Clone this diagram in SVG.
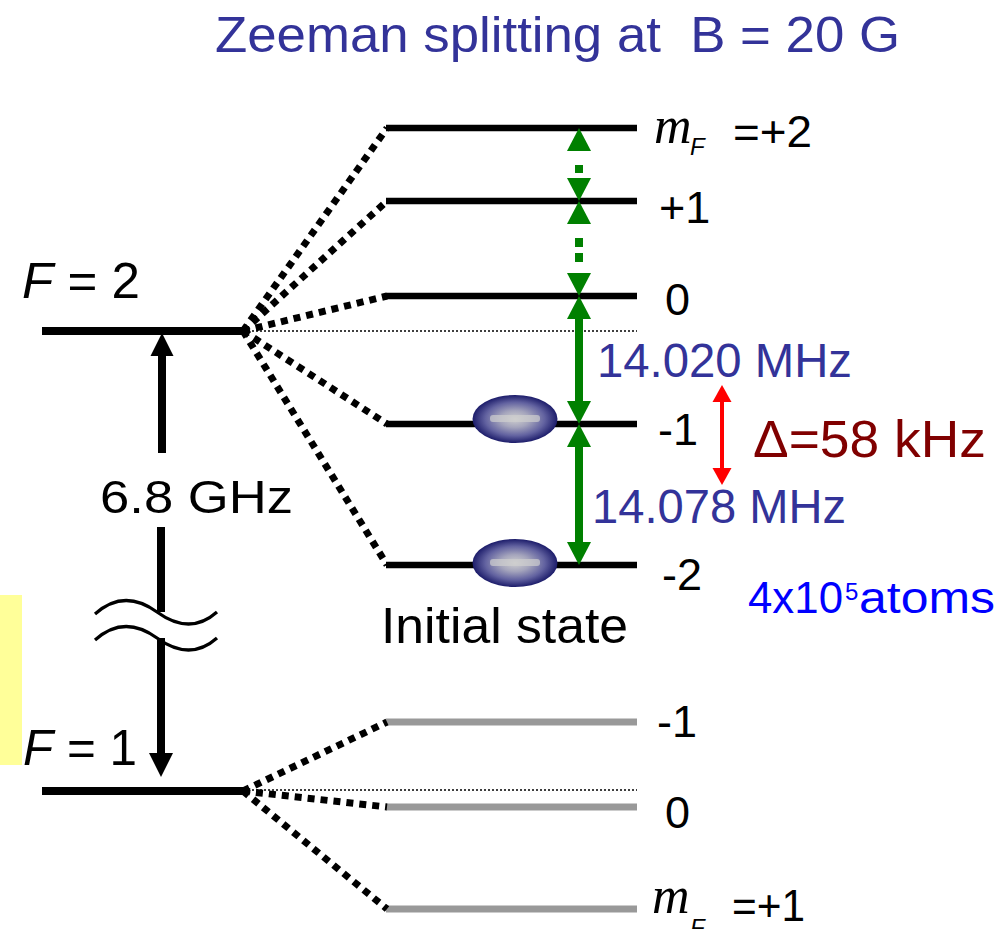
<svg xmlns="http://www.w3.org/2000/svg" xmlns:xlink="http://www.w3.org/1999/xlink" width="1003" height="929" viewBox="0 0 1003 929">
<style>
  text { font-family: "Liberation Sans", Arial, sans-serif; }
  .lvl { stroke: #000; stroke-width: 6.5; fill: none; }
  .glvl { stroke: #999; stroke-width: 7; fill: none; }
  .main { stroke: #000; stroke-width: 8; fill: none; }
  .diag { stroke: #000; stroke-width: 7; stroke-dasharray: 7 6; fill: none; }
  .thin { stroke: #000; stroke-width: 1.6; stroke-dasharray: 2 2; fill: none; }
  .grn { stroke: #008000; stroke-width: 8; fill: none; }
  .grnd { stroke: #008000; stroke-width: 8; stroke-dasharray: 9 6; fill: none; }
  .gh { fill: #008000; }
  .rh { fill: #ff0000; }
  .wave { stroke: #000; stroke-width: 3.2; fill: none; }
  .lbl { font-size: 45px; fill: #000; }
  .mi { font-family: "Liberation Serif", "Times New Roman", serif; font-style: italic; font-size: 52px; }
  .sub { font-style: italic; font-size: 24px; }
  .freq { font-size: 48px; fill: #333399; }
</style>
<defs>
  <path id="ghUp" d="M0,0 L12,23 L-12,23 Z"/>
  <path id="ghDn" d="M0,0 L12,-23 L-12,-23 Z"/>
  <path id="rhUp" d="M0,0 L9.5,17 L-9.5,17 Z"/>
  <path id="rhDn" d="M0,0 L9.5,-17 L-9.5,-17 Z"/>
  <path id="bhUp" d="M0,0 L11.5,23 L-11.5,23 Z"/>
  <path id="bhDn" d="M0,0 L12,-24 L-12,-24 Z"/>
  <radialGradient id="atomGrad" cx="50%" cy="50%" r="50%">
    <stop offset="0" stop-color="#cfcfcf"/>
    <stop offset="0.35" stop-color="#a4a4bc"/>
    <stop offset="0.7" stop-color="#6262a0"/>
    <stop offset="1" stop-color="#1c1c6a"/>
  </radialGradient>
</defs>

<g id="title">
  <text x="215" y="52" font-size="50" fill="#333399" textLength="685" lengthAdjust="spacingAndGlyphs" xml:space="preserve">Zeeman splitting at  B = 20 G</text>
</g>

<rect id="yellow-box" x="0" y="595" width="22" height="170" fill="#ffff99"/>

<g id="F2-main">
  <line class="main" x1="42" y1="331" x2="244" y2="331"/>
  <text x="22" y="298" font-size="50" textLength="118" lengthAdjust="spacingAndGlyphs"><tspan font-style="italic">F</tspan> = 2</text>
</g>
<g id="F1-main">
  <line class="main" x1="42" y1="791" x2="244" y2="791"/>
  <text x="23" y="765" font-size="50" textLength="114" lengthAdjust="spacingAndGlyphs"><tspan font-style="italic">F</tspan> = 1</text>
</g>

<g id="F2-levels">
  <line class="lvl" x1="386" y1="128" x2="637" y2="128"/>
  <line class="lvl" x1="386" y1="201" x2="637" y2="201"/>
  <line class="lvl" x1="386" y1="296" x2="637" y2="296"/>
  <line class="lvl" x1="386" y1="424" x2="637" y2="424"/>
  <line class="lvl" x1="386" y1="565" x2="637" y2="565"/>
</g>
<g id="F1-levels">
  <line class="glvl" x1="386" y1="722" x2="637" y2="722"/>
  <line class="glvl" x1="386" y1="807" x2="637" y2="807"/>
  <line class="glvl" x1="386" y1="909" x2="637" y2="909"/>
</g>

<g id="connectors">
  <line class="thin" x1="244" y1="331" x2="637" y2="331"/>
  <line class="thin" x1="244" y1="790" x2="637" y2="790"/>
  <line class="diag" x1="243" y1="331" x2="387" y2="128"/>
  <line class="diag" x1="243" y1="331" x2="387" y2="201"/>
  <line class="diag" x1="243" y1="331" x2="387" y2="296"/>
  <line class="diag" x1="243" y1="331" x2="387" y2="424"/>
  <line class="diag" x1="243" y1="331" x2="387" y2="565"/>
  <line class="diag" x1="243" y1="791" x2="387" y2="722"/>
  <line class="diag" x1="243" y1="791" x2="387" y2="807"/>
  <line class="diag" x1="243" y1="791" x2="387" y2="909"/>

  <!-- 6.8 GHz arrow -->
  <line class="main" x1="162" y1="355" x2="162" y2="453" stroke-width="9"/>
  <use href="#bhUp" x="162" y="333"/>
  <line class="main" x1="161" y1="527" x2="161" y2="612" stroke-width="9"/>
  <line class="main" x1="161" y1="638" x2="161" y2="754" stroke-width="9"/>
  <use href="#bhDn" x="161" y="777"/>
  <path class="wave" d="M95,614 Q124,588 157,612 Q190,636 217,612"/>
  <path class="wave" d="M95,640 Q124,614 157,638 Q190,662 217,638"/>

  <!-- green transitions -->
  <line class="grn" x1="579" y1="165" x2="579" y2="173"/>
  <use class="gh" href="#ghUp" x="579" y="128"/>
  <use class="gh" href="#ghDn" x="579" y="201"/>
  <line class="grnd" x1="579" y1="238" x2="579" y2="262"/>
  <use class="gh" href="#ghUp" x="579" y="201"/>
  <use class="gh" href="#ghDn" x="579" y="296"/>
  <line class="grn" x1="579" y1="318" x2="579" y2="402"/>
  <use class="gh" href="#ghUp" x="579" y="296"/>
  <use class="gh" href="#ghDn" x="579" y="424"/>
  <line class="grn" x1="579" y1="446" x2="579" y2="543"/>
  <use class="gh" href="#ghUp" x="579" y="424"/>
  <use class="gh" href="#ghDn" x="579" y="565"/>

  <!-- red delta arrow -->
  <line x1="722" y1="401" x2="722" y2="469" stroke="#ff0000" stroke-width="4"/>
  <use class="rh" href="#rhUp" x="722" y="385"/>
  <use class="rh" href="#rhDn" x="722" y="485"/>
</g>

<g id="atoms">
  <ellipse cx="515" cy="419" rx="42.5" ry="24" fill="url(#atomGrad)"/>
  <rect x="490" y="415" width="50" height="7" rx="3" fill="#cfcfcf" opacity="0.7"/>
  <ellipse cx="515" cy="563" rx="42.5" ry="24" fill="url(#atomGrad)"/>
  <rect x="490" y="559" width="50" height="7" rx="3" fill="#cfcfcf" opacity="0.7"/>
</g>

<g id="labels">
  <text class="mi" x="654" y="143">m</text>
  <text class="sub" x="690" y="155">F</text>
  <text class="lbl" x="733" y="147" textLength="79" lengthAdjust="spacingAndGlyphs">=+2</text>
  <text class="lbl" x="659" y="223">+1</text>
  <text class="lbl" x="665" y="315">0</text>
  <text class="lbl" x="658" y="445">-1</text>
  <text class="lbl" x="662" y="590">-2</text>
  <text class="lbl" x="657" y="737">-1</text>
  <text class="lbl" x="665" y="828">0</text>
  <text class="mi" x="652" y="913">m</text>
  <text class="sub" x="690" y="936">F</text>
  <text class="lbl" x="732" y="921" textLength="73" lengthAdjust="spacingAndGlyphs">=+1</text>

  <text x="100" y="513" font-size="46" textLength="193" lengthAdjust="spacingAndGlyphs">6.8 GHz</text>
  <text x="381" y="643" font-size="50" textLength="247" lengthAdjust="spacingAndGlyphs">Initial state</text>
  <text class="freq" x="597" y="377" textLength="255" lengthAdjust="spacingAndGlyphs">14.020 MHz</text>
  <text class="freq" x="592" y="523" textLength="254" lengthAdjust="spacingAndGlyphs">14.078 MHz</text>
  <text x="753" y="457" font-size="52" fill="#800000" textLength="233" lengthAdjust="spacingAndGlyphs">Δ=58 kHz</text>
  <text font-size="44" fill="#0000ff"><tspan x="748" y="613" textLength="95" lengthAdjust="spacingAndGlyphs">4x10</tspan><tspan x="845" y="600" font-size="24">5</tspan><tspan x="859" y="613" textLength="136" lengthAdjust="spacingAndGlyphs">atoms</tspan></text>
</g>
</svg>
